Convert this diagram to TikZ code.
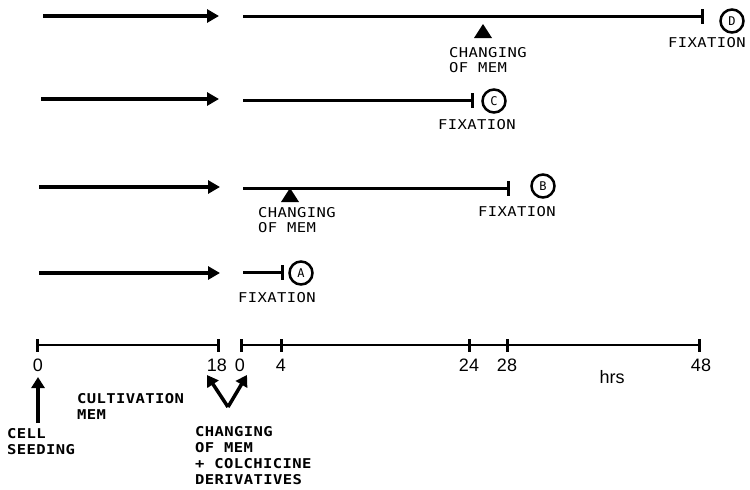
\documentclass[tikz,border=0pt]{standalone}
\usepackage{fontspec}
\setmainfont{Liberation Sans}
\newfontfamily\labfont[LetterSpace=3,FakeStretch=1.15]{DejaVu Sans Mono}
\newfontfamily\circfont{DejaVu Sans Mono}
\usetikzlibrary{arrows.meta}
\begin{document}
\begin{tikzpicture}[x=1pt,y=-1pt,
  lab/.style={font=\labfont\fontsize{13.5}{15.5}\selectfont, align=left, inner sep=0pt, anchor=base west},
  blab/.style={lab, font=\labfont\bfseries\fontsize{13.5}{16}\selectfont},
  num/.style={font=\fontsize{18}{18}\selectfont, inner sep=0pt, anchor=base},
  arr/.style={line width=3.5pt, -{Triangle[length=12pt,width=13pt]}},
  uparr/.style={line width=3.5pt, -{Triangle[length=11pt,width=13pt]}},
  seg/.style={line width=3pt},
  endbar/.style={line width=3pt},
  axis/.style={line width=2.5pt},
  tick/.style={line width=3pt},
  circ/.style={circle, draw, line width=2.5pt, minimum size=23pt, inner sep=0pt, font=\circfont\fontsize{12}{12}\selectfont},
  tri/.style={fill=black}
]
\useasboundingbox (0,0) rectangle (750,490);

% ---------- row D ----------
\coordinate (dL0) at (43,16);  \coordinate (dL1) at (219,16);
\coordinate (dR0) at (243,16); \coordinate (dR1) at (702,16);
\draw[arr] (dL0) -- (dL1);
\draw[seg] (dR0) -- (dR1);
\draw[endbar] ([yshift=-7.5pt]dR1) -- ([yshift=7.5pt]dR1);
\coordinate (dT) at (483,24);
\fill[tri] (dT) -- ++(9,14) -- ++(-18,0) -- cycle;
\node[lab] (dchg) at (449,72.5) {CHANGING\\OF MEM};
\node[circ] (dC) at (732,21) {D};
\node[lab] (dfix) at (668,47.5) {FIXATION};

% ---------- row C ----------
\coordinate (cL0) at (41,99);  \coordinate (cL1) at (219,99);
\coordinate (cR0) at (243,100); \coordinate (cR1) at (472,100);
\draw[arr] (cL0) -- (cL1);
\draw[seg] (cR0) -- (cR1);
\draw[endbar] ([yshift=-7.5pt]cR1) -- ([yshift=7.5pt]cR1);
\node[circ] (cC) at (494,101) {C};
\node[lab] (cfix) at (438,129.5) {FIXATION};

% ---------- row B ----------
\coordinate (bL0) at (39,187);  \coordinate (bL1) at (220,187);
\coordinate (bR0) at (243,188); \coordinate (bR1) at (508,188);
\draw[arr] (bL0) -- (bL1);
\draw[seg] (bR0) -- (bR1);
\draw[endbar] ([yshift=-7.5pt]bR1) -- ([yshift=7.5pt]bR1);
\coordinate (bT) at (290,188);
\fill[tri] (bT) -- ++(9,14) -- ++(-18,0) -- cycle;
\node[lab] (bchg) at (258,232.5) {CHANGING\\OF MEM};
\node[circ] (bC) at (543,186) {B};
\node[lab] (bfix) at (478,216.5) {FIXATION};

% ---------- row A ----------
\coordinate (aL0) at (39,273);  \coordinate (aL1) at (220,273);
\coordinate (aR0) at (243,272); \coordinate (aR1) at (282,272);
\draw[arr] (aL0) -- (aL1);
\draw[seg] (aR0) -- (aR1);
\draw[endbar] ([yshift=-7.5pt]aR1) -- ([yshift=7.5pt]aR1);
\node[circ] (aC) at (301,273) {A};
\node[lab] (afix) at (238,302.5) {FIXATION};

% ---------- axis ----------
\coordinate (x0) at (37,345);
\coordinate (x18) at (218,345);
\coordinate (y0) at (241,345);
\coordinate (y4) at (281,345);
\coordinate (y24) at (469,345);
\coordinate (y28) at (507,345);
\coordinate (y48) at (699,345);
\draw[axis] (x0) -- (x18);
\draw[axis] (y0) -- (y48);
\foreach \c in {x0,x18,y0,y4,y24,y28,y48}
  \draw[tick] ([yshift=-6.5pt]\c) -- ([yshift=6.5pt]\c);

\node[num] (n0)  at (38,371)  {0};
\node[num] (n18) at (217,371) {18};
\node[num] (m0)  at (240,371) {0};
\node[num] (m4)  at (281,371) {4};
\node[num] (m24) at (469,371) {24};
\node[num] (m28) at (507,371) {28};
\node[num] (m48) at (701,371) {48};
\node[num] (hrs) at (612,383) {hrs};

% ---------- bottom annotations ----------
\coordinate (seedA) at (38,423);
\coordinate (seedB) at (38,377);
\draw[uparr] (seedA) -- (seedB);
\node[blab] (cell) at (7,454.5) {CELL\\SEEDING};
\node[blab] (cult) at (77,419.5) {CULTIVATION\\MEM};

\coordinate (vx) at (228,407);
\coordinate (vl) at (207,375);
\coordinate (vr) at (247,375);
\draw[uparr] (vx) -- (vl);
\draw[uparr] (vx) -- (vr);
\node[blab] (chg) at (195,484.5) {CHANGING\\OF MEM\\+ COLCHICINE\\DERIVATIVES};
\end{tikzpicture}
\end{document}
